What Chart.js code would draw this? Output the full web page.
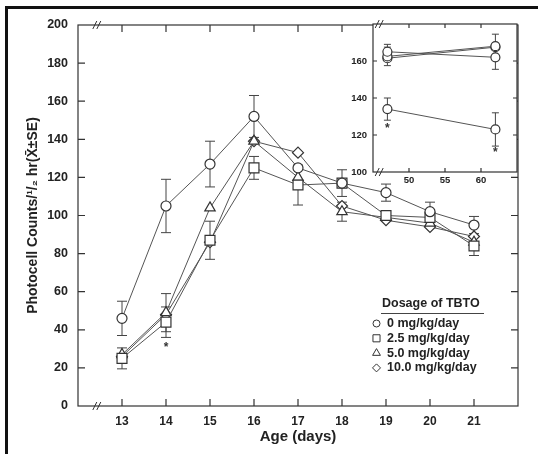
<!DOCTYPE html>
<html>
<head>
<meta charset="utf-8">
<script src="https://cdn.jsdelivr.net/npm/chart.js@4"></script>
<style>
  body { margin: 0; background: #fff; }
  #wrap { position: relative; width: 538px; height: 454px; overflow: hidden; }
  #frame { position: absolute; left: 5px; top: 6px; width: 600px; height: 600px;
           border-top: 3px solid #111; border-left: 3px solid #111; }
  #main { position: absolute; left: 0; top: 0; }
  #inset { position: absolute; left: 330px; top: 10px; }
</style>
</head>
<body>
<div id="wrap">
  <div id="frame"></div>
  <canvas id="main" width="538" height="454"></canvas>
  <canvas id="inset" width="200" height="190"></canvas>
</div>
<script>
// main panel: age in days
var days = [13, 14, 15, 16, 17, 18, 19, 20, 21];
var dose0 = [46, 105, 127, 152, 125, 117, 112, 102, 95];
var dose0Se = [9, 14, 12, 11, null, 7, 4.5, 5, 4.5];
var dose25 = [25, 44, 87, 125, 116, 117, 100, 99, 84];
var dose25Se = [5.5, 8, 10, 6, 10.5, null, null, null, 5];
var dose50 = [27, 49, 104, 139, 120, 102, 99, 96, 86];
var dose50Se = [null, 10, null, null, null, 5, null, null, null];
var dose100 = [26, 48, 86, 139, 133, 105, 97.5, 94, 89];
var doseLabels = ['0 mg/kg/day', '2.5 mg/kg/day', '5.0 mg/kg/day', '10.0 mg/kg/day'];
var yTicks = [20, 40, 60, 80, 100, 120, 140, 160, 180];
var starX = [14];
var starY = [32];

// inset panel
var insetDays = [47, 62];
var insetTop0 = [165, 162];
var insetTop0Se = [4, 6.5];
var insetTop25 = [162.5, 168];
var insetTop25Se = [5, 6.5];
var insetTop100 = [161.5, 167.5];
var insetLow0 = [134, 123];
var insetLow0Se = [6, 9];
var insetXTicks = [50, 55, 60];
var insetYTicks = [120, 140, 160];
var insetStarX = [47, 62];
var insetStarY = [125, 112];

function pts(xs, ys) {
  return xs.map(function(x, i) { return {x: x, y: ys[i]}; });
}

function series(label, xs, ys, se, style, radius) {
  return {
    label: label, data: pts(xs, ys), se: se,
    borderColor: '#555', borderWidth: 1,
    pointStyle: style, pointRadius: radius,
    pointBackgroundColor: '#fff', pointBorderColor: '#333', pointBorderWidth: 1.2
  };
}

var boldFont = function(size) { return {family: 'Liberation Sans', weight: 'bold', size: size}; };

// box, inward ticks, axis breaks, error bars, stars
var framePlugin = {
  id: 'frame',
  beforeDraw: function(chart, args, o) {
    var a = chart.chartArea, ctx = chart.ctx;
    ctx.save();
    ctx.fillStyle = '#fff';
    ctx.fillRect(a.left, a.top, a.right - a.left, a.bottom - a.top);
    ctx.restore();
  },
  beforeDatasetsDraw: function(chart, args, o) {
    var ctx = chart.ctx, ys = chart.scales.y;
    ctx.save();
    ctx.strokeStyle = '#444';
    ctx.lineWidth = 1;
    chart.data.datasets.forEach(function(ds, di) {
      if (!ds.se) return;
      var meta = chart.getDatasetMeta(di);
      ds.data.forEach(function(p, i) {
        var e = ds.se[i];
        if (e == null) return;
        var px = meta.data[i].x;
        var t = ys.getPixelForValue(p.y + e), b = ys.getPixelForValue(p.y - e);
        ctx.beginPath();
        ctx.moveTo(px, t); ctx.lineTo(px, b);
        ctx.moveTo(px - o.cap, t); ctx.lineTo(px + o.cap, t);
        ctx.moveTo(px - o.cap, b); ctx.lineTo(px + o.cap, b);
        ctx.stroke();
      });
    });
    ctx.restore();
  },
  afterDraw: function(chart, args, o) {
    var ctx = chart.ctx, a = chart.chartArea, xs = chart.scales.x, ys = chart.scales.y;
    ctx.save();
    ctx.strokeStyle = '#333';
    ctx.lineWidth = 1.2;
    ctx.strokeRect(a.left, a.top, a.right - a.left, a.bottom - a.top);
    ctx.beginPath();
    o.xTicks.forEach(function(v) {
      var p = xs.getPixelForValue(v);
      ctx.moveTo(p, a.bottom); ctx.lineTo(p, a.bottom - o.len);
      ctx.moveTo(p, a.top); ctx.lineTo(p, a.top + o.len);
    });
    o.yTicks.forEach(function(v) {
      var p = ys.getPixelForValue(v);
      ctx.moveTo(a.left, p); ctx.lineTo(a.left + o.len, p);
      ctx.moveTo(a.right, p); ctx.lineTo(a.right - o.len, p);
    });
    ctx.stroke();
    // axis break marks
    var bx = xs.getPixelForValue(o.breakAt);
    ctx.lineWidth = 1;
    [a.bottom, a.top].forEach(function(y) {
      ctx.beginPath();
      ctx.moveTo(bx - 5, y + 4); ctx.lineTo(bx - 1, y - 4);
      ctx.moveTo(bx - 1, y + 4); ctx.lineTo(bx + 3, y - 4);
      ctx.stroke();
    });
    // significance stars
    ctx.fillStyle = '#333';
    ctx.font = 'bold 12px Liberation Sans';
    ctx.textAlign = 'center';
    ctx.textBaseline = 'middle';
    o.starX.forEach(function(x, i) {
      ctx.fillText('*', xs.getPixelForValue(x), ys.getPixelForValue(o.starY[i]) + 3);
    });
    ctx.restore();
  }
};

// legend box in lower right of main panel
var legendPlugin = {
  id: 'dosageLegend',
  afterDraw: function(chart, args, o) {
    var ctx = chart.ctx;
    ctx.save();
    ctx.fillStyle = '#222';
    ctx.textBaseline = 'middle';
    ctx.textAlign = 'left';
    ctx.font = 'bold 12.5px Liberation Sans';
    ctx.fillText(o.title, 382, 304);
    ctx.strokeStyle = '#444';
    ctx.lineWidth = 1;
    ctx.beginPath(); ctx.moveTo(381, 313.5); ctx.lineTo(484, 313.5); ctx.stroke();
    chart.data.datasets.forEach(function(ds, i) {
      var y = 323.5 + i * 14.8;
      ctx.fillStyle = '#fff';
      ctx.strokeStyle = '#333';
      Chart.helpers.drawPoint(ctx, {pointStyle: ds.pointStyle, radius: o.radius[i], borderWidth: 1.1, rotation: 0}, 376.5, y);
      ctx.fillStyle = '#222';
      ctx.fillText(ds.label, 387, y);
    });
    ctx.restore();
  }
};

new Chart(document.getElementById('main'), {
  type: 'line',
  data: {
    datasets: [
      series(doseLabels[0], days, dose0, dose0Se, 'circle', 5),
      series(doseLabels[1], days, dose25, dose25Se, 'rect', 7),
      series(doseLabels[2], days, dose50, dose50Se, 'triangle', 6),
      series(doseLabels[3], days, dose100, null, 'rectRot', 5.5)
    ]
  },
  options: {
    responsive: false,
    animation: false,
    layout: {padding: {top: 25, right: 20, left: 0, bottom: 0}},
    plugins: {
      legend: {display: false},
      tooltip: {enabled: false},
      frame: {xTicks: days, yTicks: yTicks, len: 7, cap: 5, breakAt: 12.45, starX: starX, starY: starY},
      dosageLegend: {title: 'Dosage of TBTO', radius: [3.5, 5, 4.5, 4]}
    },
    scales: {
      x: {
        type: 'linear', min: 12, max: 22,
        afterFit: function(s) { s.height = 48; },
        grid: {display: false, drawTicks: false}, border: {display: false},
        ticks: {
          stepSize: 1, padding: 8, color: '#222', font: boldFont(12), maxRotation: 0, autoSkip: false,
          callback: function(v) { return days.indexOf(v) >= 0 ? v : ''; }
        },
        title: {display: true, text: 'Age (days)', color: '#222', font: boldFont(15), padding: {top: 0, bottom: 8}}
      },
      y: {
        min: 0, max: 200,
        afterFit: function(s) { s.width = 78; },
        grid: {display: false, drawTicks: false}, border: {display: false},
        ticks: {stepSize: 20, padding: 10, color: '#222', font: boldFont(12.5)},
        title: {display: true, text: 'Photocell Counts/¹/₂ hr(X̄±SE)', color: '#222', font: boldFont(14), padding: {top: 25, bottom: 0}}
      }
    }
  },
  plugins: [framePlugin, legendPlugin]
});

new Chart(document.getElementById('inset'), {
  type: 'line',
  data: {
    datasets: [
      series(doseLabels[0], insetDays, insetTop0, insetTop0Se, 'circle', 4.5),
      series(doseLabels[1], insetDays, insetTop25, insetTop25Se, 'circle', 4.5),
      series(doseLabels[3], insetDays, insetTop100, null, 'circle', 4.5),
      series(doseLabels[0], insetDays, insetLow0, insetLow0Se, 'circle', 4.5)
    ]
  },
  options: {
    responsive: false,
    animation: false,
    layout: {padding: {top: 14, right: 13, left: 0, bottom: 0}},
    plugins: {
      legend: {display: false},
      tooltip: {enabled: false},
      frame: {xTicks: insetXTicks, yTicks: insetYTicks, len: 4, cap: 3.5, breakAt: 46, starX: insetStarX, starY: insetStarY}
    },
    scales: {
      x: {
        type: 'linear', min: 45, max: 65,
        afterFit: function(s) { s.height = 28; },
        grid: {display: false, drawTicks: false}, border: {display: false},
        ticks: {
          stepSize: 5, padding: 3, color: '#222', font: boldFont(9.5), maxRotation: 0, autoSkip: false,
          callback: function(v) { return insetXTicks.indexOf(v) >= 0 ? v : ''; }
        }
      },
      y: {
        min: 100, max: 180,
        afterFit: function(s) { s.width = 43; },
        grid: {display: false, drawTicks: false}, border: {display: false},
        ticks: {
          stepSize: 20, padding: 6, color: '#222', font: boldFont(9.5),
          callback: function(v) { return v < 180 ? v : ''; }
        }
      }
    }
  },
  plugins: [framePlugin]
});
</script>
</body>
</html>
